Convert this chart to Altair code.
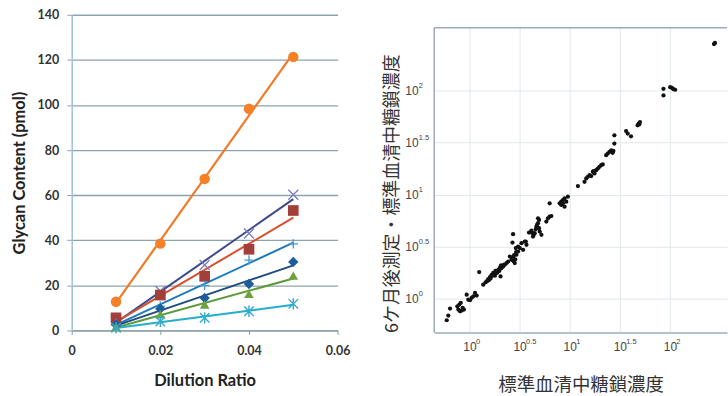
import altair as alt
import pandas as pd
import numpy as np

# ---------------- Left panel: glycan content vs dilution ratio ----------------
ratios = [0.01, 0.02, 0.03, 0.04, 0.05]
orange_circle = [12.7, 38.5, 67.2, 98.3, 121.3]
purple_x = [4.5, 17.5, 29.0, 43.0, 60.2]
red_square = [5.6, 15.7, 24.0, 36.0, 53.2]
blue_plus = [3.0, 10.8, 20.0, 31.2, 38.4]
navy_diamond = [2.5, 9.6, 14.4, 20.6, 30.4]
green_triangle = [1.6, 7.2, 11.5, 16.2, 24.3]
cyan_star = [1.2, 4.0, 5.6, 8.5, 11.8]

series = [
    # name, values, marker colour, line colour, shape, filled, size
    ("circle", orange_circle, "#F58025", "#F07A28", "circle", True, 110),
    ("x", purple_x, "#7B7FC0", "#3E4A8C", "M-1,-1L1,1M-1,1L1,-1", False, 100),
    ("square", red_square, "#A33F3A", "#D6502E", "square", True, 115),
    ("plus", blue_plus, "#4A9AD8", "#1C78BE", "M-1,0L1,0M0,-1L0,1", False, 90),
    ("diamond", navy_diamond, "#1F5C9E", "#1D4C7E", "diamond", True, 110),
    ("triangle", green_triangle, "#6FA23E", "#5C9A3A", "triangle-up", True, 95),
    ("star", cyan_star, "#33AACB", "#22AECB", "M-1,-1L1,1M-1,1L1,-1M0,-1.2L0,1.2", False, 90),
]

grid_col = "#8ba3ae"
x_left = alt.X(
    "ratio:Q",
    scale=alt.Scale(domain=[0, 0.06], nice=False),
    axis=alt.Axis(
        values=[0, 0.02, 0.04, 0.06],
        labelExpr="datum.value == 0 ? '0' : format(datum.value, '.2f')",
        grid=False, domainColor="#8a9aa0", domainWidth=1.3,
        tickColor="#8a9aa0", tickSize=4, labelPadding=10, labelFlush=False,
        labelFont="Lato", labelFontWeight="bold", labelFontSize=12.5, labelColor="#333",
        title="Dilution Ratio", titleFont="Lato", titleFontSize=16.5,
        titleFontWeight="bold", titleColor="#222", titlePadding=16,
    ),
)
y_left = alt.Y(
    "value:Q",
    scale=alt.Scale(domain=[0, 140], nice=False),
    axis=alt.Axis(
        values=[0, 20, 40, 60, 80, 100, 120, 140],
        grid=True, gridColor=grid_col, gridWidth=1.3,
        domainColor="#9cc0d6", domainWidth=1.5,
        tickColor=grid_col, tickSize=5, labelPadding=8, labelFlush=False,
        labelFont="Lato", labelFontWeight="bold", labelFontSize=12.5, labelColor="#333",
        title="Glycan Content (pmol)", titleFont="Lato", titleFontSize=16.5,
        titleFontWeight="bold", titleColor="#222", titlePadding=10,
    ),
)

line_layers = []
point_layers = []
for name, vals, mcol, lcol, shape, filled, size in series:
    df = pd.DataFrame({"ratio": ratios, "value": vals, "series": name})
    base = alt.Chart(df)
    line_layers.append(
        base.transform_regression("ratio", "value", extent=[0.01, 0.05])
        .mark_line(color=lcol, strokeWidth=2.2 if name == "circle" else 2)
        .encode(x=x_left, y=y_left)
    )
    if filled:
        pm = base.mark_point(shape=shape, filled=True, color=mcol, opacity=1, size=size)
    else:
        pm = base.mark_point(shape=shape, filled=False, color=mcol, stroke=mcol,
                             strokeWidth=1.4, opacity=1, size=size)
    point_layers.append(pm.encode(x=x_left, y=y_left))

left = alt.layer(*line_layers, *point_layers).properties(
    width=267, height=317, view=alt.ViewBackground(stroke=None)
)

# ---------------- Right panel: log-log scatter ----------------
std_log10 = [
    -0.232, -0.216, -0.199, -0.126, -0.106, -0.092, -0.116, -0.083, -0.060, -0.073, -0.099,
    -0.033, -0.017, 0.017, 0.033, 0.050, 0.067, 0.000, 0.092, 0.132, 0.156, 0.182, 0.199,
    0.216, 0.232, 0.249, 0.265, 0.281, 0.298, 0.305, 0.315, 0.331, 0.348, 0.365, 0.381,
    0.398, 0.415, 0.430, 0.447, 0.464, 0.480, 0.497, 0.514, 0.530, 0.564, 0.557,
    0.240, 0.260, 0.272, 0.285, 0.292, 0.255, 0.300, 0.320, 0.340, 0.222, 0.205, 0.188,
    0.170, 0.310, 0.420, 0.440, 0.452, 0.460, 0.435,
    0.430, 0.424, 0.457, 0.480, 0.547, 0.589, 0.613, 0.629, 0.646, 0.656, 0.663, 0.669,
    0.679, 0.689, 0.696, 0.713, 0.636, 0.623, 0.679, 0.689, 0.762, 0.778, 0.795, 0.812,
    0.795, 0.895, 0.911, 0.927, 0.944, 0.961, 0.977, 0.944, 0.911, 0.927, 1.077, 1.143,
    1.160, 1.176, 1.193, 1.210, 1.226, 1.243,
    1.259, 1.276, 1.292, 1.309, 1.325, 1.233, 1.359, 1.375, 1.392, 1.409, 1.424, 1.431,
    1.441, 1.441, 1.558, 1.574, 1.607, 1.673, 1.683, 1.697, 1.690,
    1.931, 1.931, 1.998, 2.015, 2.031, 2.048, 2.435, 2.445,
]
six_month_log10 = [
    -0.205, -0.160, -0.093, -0.071, -0.054, -0.038, -0.102, -0.112, -0.102, -0.086, -0.119,
    0.041, -0.007, 0.010, 0.025, 0.057, 0.032, -0.013, 0.258, 0.137, 0.159, 0.191, 0.210,
    0.232, 0.249, 0.223, 0.254, 0.273, 0.287, 0.216, 0.296, 0.312, 0.328, 0.344, 0.359,
    0.407, 0.376, 0.392, 0.344, 0.424, 0.455, 0.488, 0.535, 0.471, 0.519, 0.551,
    0.240, 0.262, 0.250, 0.282, 0.268, 0.270, 0.300, 0.310, 0.330, 0.222, 0.195, 0.180,
    0.170, 0.322, 0.400, 0.420, 0.380, 0.450, 0.362,
    0.621, 0.541, 0.488, 0.503, 0.551, 0.637, 0.656, 0.598, 0.631, 0.669, 0.694, 0.710,
    0.727, 0.679, 0.646, 0.615, 0.615, 0.631, 0.774, 0.758, 0.742, 0.774, 0.790, 0.796,
    0.918, 0.918, 0.933, 0.949, 0.966, 0.933, 0.981, 0.885, 0.902, 0.918, 1.083, 1.124,
    1.157, 1.172, 1.188, 1.179, 1.220, 1.205,
    1.236, 1.252, 1.268, 1.284, 1.291, 1.228, 1.380, 1.396, 1.411, 1.427, 1.402, 1.421,
    1.491, 1.571, 1.612, 1.587, 1.561, 1.666, 1.683, 1.698, 1.676,
    2.017, 1.953, 2.033, 2.027, 2.013, 2.008, 2.447, 2.457,
]
tick_exponents = ["0", "0.5", "1", "1.5", "2"]
tick_log10 = [0.0, 0.5, 1.0, 1.5, 2.0]

scat = pd.DataFrame({
    "x": np.power(10.0, std_log10),
    "y": np.power(10.0, six_month_log10),
})
ticks = pd.DataFrame({
    "x": np.power(10.0, tick_log10),
    "y": np.power(10.0, tick_log10),
    "e": tick_exponents,
})
tick_vals = list(np.power(10.0, tick_log10))

# plot area spans the same top as the left panel; the drawn frame starts lower
W2, H2 = 294, 319
FRAME_TOP = 10 ** 2.603
xs = alt.Scale(type="log", domain=[10 ** -0.357, 10 ** 2.565], nice=False)
ys = alt.Scale(type="log", domain=[10 ** -0.322, 10 ** 2.728], nice=False)
light_grid = "#e1e8eb"
frame_col = "#9aaeb5"

x_axis_r = alt.Axis(
    values=tick_vals, grid=False, labels=False, ticks=False,
    domain=True, domainColor=frame_col, domainWidth=1.5,
    title="標準血清中糖鎖濃度", titleFont="Noto Sans CJK JP",
    titleFontSize=18.5, titleFontWeight="normal", titleColor="#333",
    titlePadding=43,
)
y_axis_r = alt.Axis(
    values=tick_vals, grid=True, gridColor=light_grid, labels=False, ticks=False,
    domain=False, title="6ケ月後測定・標準血清中糖鎖濃度", titleFont="Noto Sans CJK JP",
    titleFontSize=18, titleFontWeight="normal", titleColor="#333",
    titlePadding=33, titleAnchor="start",
)
x_right = alt.X("x:Q", scale=xs, axis=x_axis_r)
y_right = alt.Y("y:Q", scale=ys, axis=y_axis_r)
y_top = alt.YDatum(FRAME_TOP, scale=ys, axis=y_axis_r, type="quantitative")

vgrid = alt.Chart(ticks).mark_rule(color=light_grid, strokeWidth=1).encode(
    x=x_right, y=y_top, y2=alt.value(H2)
)
frame_top = alt.Chart(ticks.head(1)).mark_rule(color=frame_col, strokeWidth=1.5).encode(
    x=alt.value(0), x2=alt.value(W2), y=y_top
)
frame_left = alt.Chart(ticks.head(1)).mark_rule(color=frame_col, strokeWidth=1.5).encode(
    x=alt.value(0), y=y_top, y2=alt.value(H2)
)

pts = alt.Chart(scat).mark_circle(size=18, color="#111", opacity=1).encode(x=x_right, y=y_right)

lab_font = "Liberation Sans"
xl_base = alt.Chart(ticks).mark_text(
    align="center", baseline="middle", fontSize=12, font=lab_font, color="#444"
).encode(x=x_right, y=alt.value(H2 + 15), text=alt.value("10"))
xl_sup = alt.Chart(ticks).mark_text(
    align="left", baseline="middle", fontSize=7.5, font=lab_font, color="#444", dx=6, dy=-5
).encode(x=x_right, y=alt.value(H2 + 15), text="e:N")
yl_base = alt.Chart(ticks).mark_text(
    align="left", baseline="middle", fontSize=12, font=lab_font, color="#444"
).encode(y=y_right, x=alt.value(-29), text=alt.value("10"))
yl_sup = alt.Chart(ticks).mark_text(
    align="left", baseline="middle", fontSize=7.5, font=lab_font, color="#444", dy=-5
).encode(y=y_right, x=alt.value(-15.5), text="e:N")

right = alt.layer(vgrid, frame_top, frame_left, pts, xl_base, xl_sup, yl_base, yl_sup).properties(
    width=W2, height=H2,
    view=alt.ViewBackground(stroke=None),
)

chart = alt.hconcat(left, right, spacing=33).properties(
    padding={"left": 11, "top": 8, "right": 0, "bottom": 0},
    background="white",
)

chart.save("out.html", embed_options={"renderer": "svg", "actions": False})
